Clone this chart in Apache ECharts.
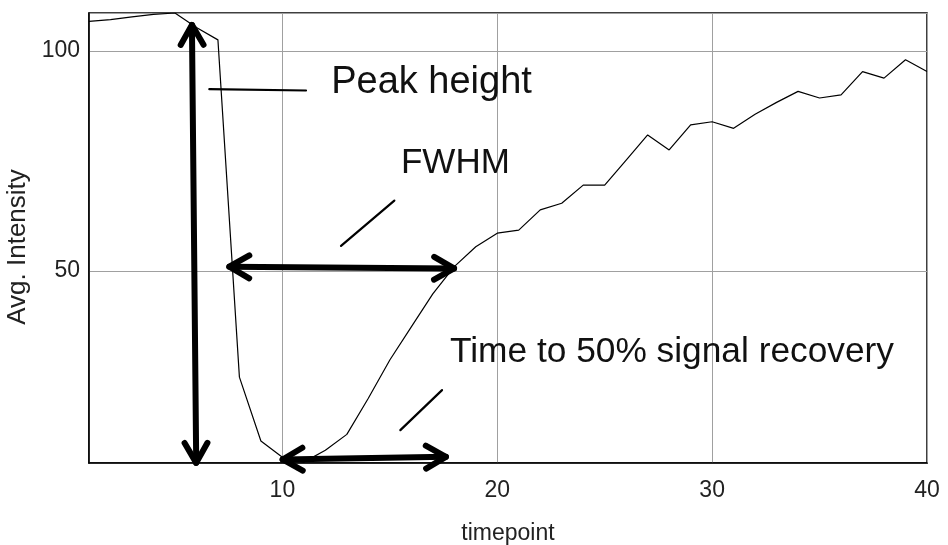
<!DOCTYPE html>
<html>
<head>
<meta charset="utf-8">
<script src="https://cdn.jsdelivr.net/npm/echarts@6/dist/echarts.min.js"></script>
<style>
html,body{margin:0;padding:0;background:#fff;}
#chart{width:948px;height:545px;}
</style>
</head>
<body>
<div id="chart"></div>
<script>
// ---- data ----
const timepoints = [1,2,3,4,5,6,7,8,9,10,11,12,13,14,15,16,17,18,19,20,21,22,23,24,25,26,27,28,29,30,31,32,33,34,35,36,37,38,39,40];
const intensity = [106.7,107.1,107.7,108.3,108.6,105.3,102.5,25.9,11.4,7.7,6.6,9.3,12.9,21.1,29.8,37.3,44.8,51.0,55.5,58.6,59.3,63.9,65.4,69.5,69.5,75.2,80.9,77.5,83.2,83.9,82.4,85.6,88.3,90.8,89.3,90.0,95.3,93.8,98.0,95.3];
const xTitle = "timepoint";
const yTitle = "Avg. Intensity";
// annotation arrows: [x1, y1, x2, y2] in data units (both ends have heads)
const arrows = [[5.79,105.9,5.99,6.43],[7.53,50.98,17.99,50.6],[10.01,7.2,17.61,7.8]];
// leader lines: [x1, y1, x2, y2] in data units
const leaders = [[6.60,91.3,11.10,91.0],[12.73,55.7,15.21,66.0],[15.49,13.86,17.43,22.95]];
// annotation labels: [x, y] (left, middle) in data units
const noteTexts = ["Peak height","FWHM","Time to 50% signal recovery"];
const notePos = [[12.27,92.8],[15.52,74.4],[17.8,31.5]];

// ---- styles ----
const noteFontSizes = [38,35,35.3];
const FONT = "'Liberation Sans', Arial, sans-serif";

const chart = echarts.init(document.getElementById('chart'), null, {renderer:'canvas'});

function arrowHead(tip, from, len, ang){
  const dx = tip[0]-from[0], dy = tip[1]-from[1];
  const L = Math.sqrt(dx*dx+dy*dy);
  const ux = dx/L, uy = dy/L;
  const pts = [];
  [ang,-ang].forEach(a=>{
    const c=Math.cos(a), s=Math.sin(a);
    const rx = ux*c - uy*s, ry = ux*s + uy*c;
    pts.push([tip[0]-rx*len, tip[1]-ry*len]);
  });
  return [pts[0], tip, pts[1]];
}

const option = {
  animation:false,
  backgroundColor:'#fff',
  grid:{left:89,right:21,top:13,bottom:82,show:true,borderColor:'#000',borderWidth:1.5,outerBoundsMode:'none',containLabel:false},
  xAxis:{
    type:'value',min:1,max:40,splitNumber:4,minInterval:10,maxInterval:10,
    name:xTitle,nameLocation:'middle',nameGap:59,
    nameTextStyle:{fontFamily:FONT,fontSize:23,color:'#222'},
    axisLine:{show:true,lineStyle:{color:'#000',width:1.5}},
    axisTick:{show:false},
    axisLabel:{showMinLabel:false,fontFamily:FONT,fontSize:23,color:'#222',margin:16},
    splitLine:{show:true,lineStyle:{color:'#a0a0a0',width:1}}
  },
  yAxis:{
    type:'value',min:6.4,max:108.6,splitNumber:2,minInterval:50,maxInterval:50,
    name:yTitle,nameLocation:'middle',nameGap:53,nameRotate:90,
    nameTextStyle:{fontFamily:FONT,fontSize:26,color:'#222',padding:[0,18,0,0]},
    axisLine:{show:true,lineStyle:{color:'#000',width:1.5}},
    axisTick:{show:false},
    axisLabel:{showMinLabel:false,showMaxLabel:false,fontFamily:FONT,fontSize:23,color:'#222',margin:9},
    splitLine:{show:true,lineStyle:{color:'#a0a0a0',width:1}}
  },
  series:[
    {
      type:'line',
      data:timepoints.map((t,i)=>[t,intensity[i]]),
      showSymbol:false,symbol:'none',
      lineStyle:{color:'#000',width:1.2},
      z:3
    },
    {
      type:'custom',
      clip:false,
      z:5,
      data:arrows,
      encode:{x:[0,2],y:[1,3]},
      renderItem:function(params,api){
        const p1 = api.coord([api.value(0),api.value(1)]);
        const p2 = api.coord([api.value(2),api.value(3)]);
        const st = {stroke:'#000',lineWidth:6,lineCap:'round',lineJoin:'round',fill:null};
        return {type:'group',children:[
          {type:'line',shape:{x1:p1[0],y1:p1[1],x2:p2[0],y2:p2[1]},style:st},
          {type:'polyline',shape:{points:arrowHead(p1,p2,23,0.52)},style:st},
          {type:'polyline',shape:{points:arrowHead(p2,p1,23,0.52)},style:st}
        ]};
      }
    },
    {
      type:'custom',
      clip:false,
      z:5,
      data:leaders,
      encode:{x:[0,2],y:[1,3]},
      renderItem:function(params,api){
        const p1 = api.coord([api.value(0),api.value(1)]);
        const p2 = api.coord([api.value(2),api.value(3)]);
        return {type:'line',shape:{x1:p1[0],y1:p1[1],x2:p2[0],y2:p2[1]},style:{stroke:'#000',lineWidth:2.2,lineCap:'round'}};
      }
    },
    {
      type:'custom',
      clip:false,
      z:6,
      data:notePos,
      encode:{x:0,y:1},
      renderItem:function(params,api){
        const p = api.coord([api.value(0),api.value(1)]);
        const i = params.dataIndex;
        return {type:'text',x:p[0],y:p[1],style:{text:noteTexts[i],fontFamily:FONT,fontSize:noteFontSizes[i],fill:'#111',align:'left',verticalAlign:'middle'}};
      }
    }
  ]
};
chart.setOption(option);
</script>
</body>
</html>
